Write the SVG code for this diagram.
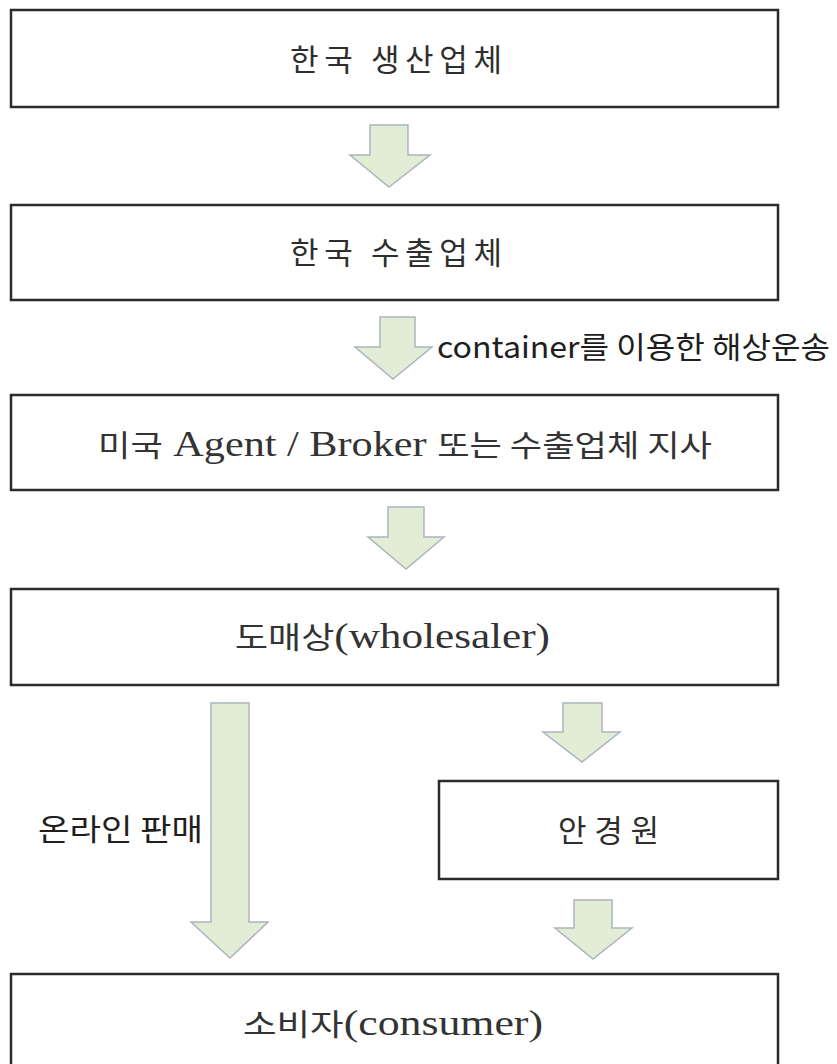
<svg xmlns="http://www.w3.org/2000/svg" width="837" height="1064" viewBox="0 0 837 1064">
<style>
.box{fill:#ffffff;stroke:#2b2b2b;stroke-width:2.5}
.arr{fill:#e3edd6;stroke:#aab5bd;stroke-width:1.5;stroke-linejoin:miter}
.ks{font-family:"Noto Sans CJK KR","Noto Sans",sans-serif;font-size:31px;fill:#2e2e2e}
.sr{font-family:"Liberation Serif","Noto Sans CJK KR",serif;font-size:36px;fill:#333333}
.sr .k{font-family:"Noto Sans CJK KR",sans-serif;font-size:30px}
.lb{font-family:"Noto Sans CJK KR","Noto Sans",sans-serif;font-size:30px;fill:#1e1e1e}
</style>
<rect width="837" height="1064" fill="#ffffff"/>
<g id="connectors">
<polygon class="arr" points="370,125 408,125 408,155 430,155 389,187 350,155 370,155"/>
<polygon class="arr" points="380,317 415,317 415,347 432,347 393,379 355,347 380,347"/>
<polygon class="arr" points="388,507 424,507 424,537 444,537 406,569 368,537 388,537"/>
<polygon class="arr" points="211,703 249,703 249,922 268,922 230,958 191,922 211,922"/>
<polygon class="arr" points="563,703 602,703 602,732 620,732 582,762 543,732 563,732"/>
<polygon class="arr" points="574,900 612,900 612,928 632,928 593,959 555,928 574,928"/>
<text class="lb" x="437" y="358" textLength="393" lengthAdjust="spacingAndGlyphs">container를 이용한 해상운송</text>
<text class="lb" x="38" y="840" textLength="165" lengthAdjust="spacingAndGlyphs">온라인 판매</text>
</g>
<g id="node1">
<rect class="box" x="11" y="10" width="767" height="97"/>
<text class="ks" x="290" y="71" textLength="212" lengthAdjust="spacing">한국 생산업체</text>
</g>
<g id="node2">
<rect class="box" x="11" y="205" width="767" height="95"/>
<text class="ks" x="290" y="264" textLength="212" lengthAdjust="spacing">한국 수출업체</text>
</g>
<g id="node3">
<rect class="box" x="11" y="395" width="767" height="95"/>
<text class="sr" x="98" y="456" textLength="614" lengthAdjust="spacingAndGlyphs"><tspan class="k">미국</tspan> Agent / Broker <tspan class="k">또는 수출업체 지사</tspan></text>
</g>
<g id="node4">
<rect class="box" x="11" y="589" width="767" height="96"/>
<text class="sr" x="235" y="648" textLength="315" lengthAdjust="spacingAndGlyphs"><tspan class="k">도매상</tspan>(wholesaler)</text>
</g>
<g id="node5">
<rect class="box" x="439" y="781" width="339" height="98"/>
<text class="ks" x="558" y="842" textLength="101" lengthAdjust="spacing">안경원</text>
</g>
<g id="node6">
<rect class="box" x="11" y="974" width="767" height="110"/>
<text class="sr" x="243" y="1035" textLength="300" lengthAdjust="spacingAndGlyphs"><tspan class="k">소비자</tspan>(consumer)</text>
</g>
</svg>
